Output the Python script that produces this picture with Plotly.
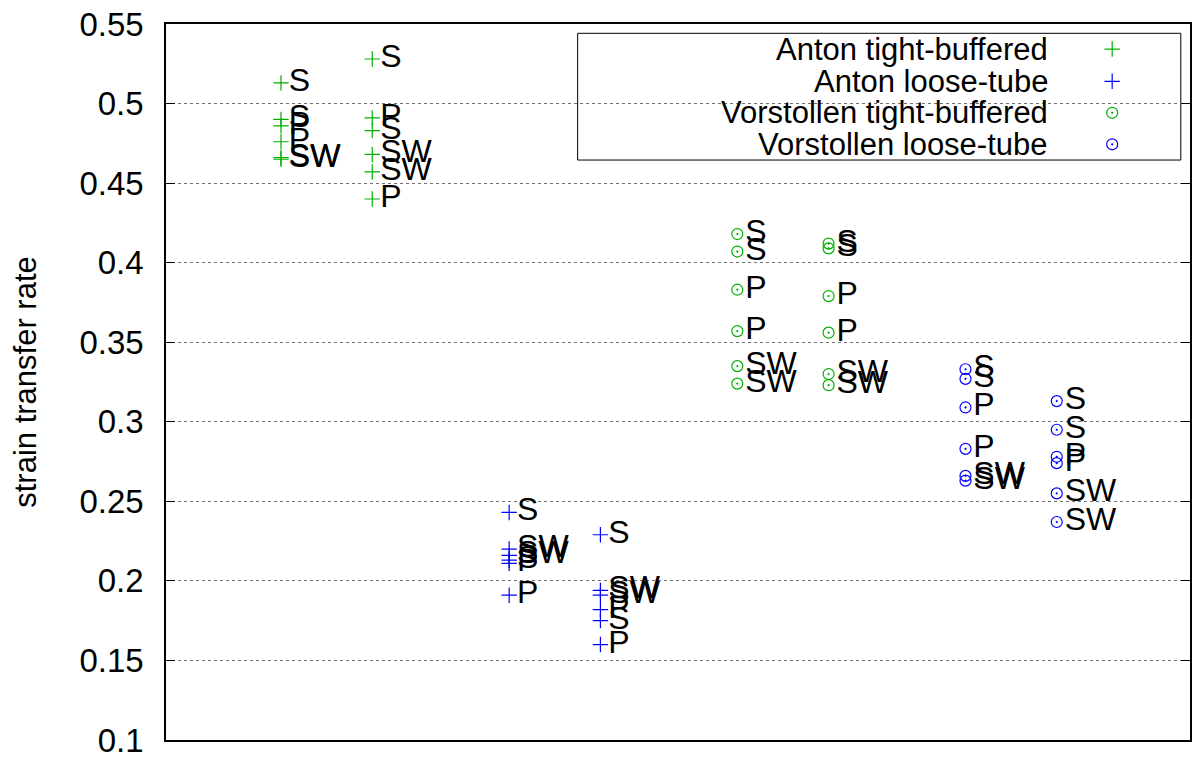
import plotly.graph_objects as go

# posiciones en x de cada grupo (dos columnas por serie)
pos_anton_tight = [0, 1]
pos_anton_loose = [2.5, 3.5]
pos_vorst_tight = [5, 6]
pos_vorst_loose = [7.5, 8.5]

# valores, columna por columna
anton_tight_a = [0.513, 0.490, 0.486, 0.476, 0.466, 0.465]
anton_tight_a_lbl = ["S", "S", "P", "P", "SW", "SW"]
anton_tight_b = [0.528, 0.491, 0.483, 0.468, 0.457, 0.440]
anton_tight_b_lbl = ["S", "P", "S", "SW", "SW", "P"]

anton_loose_a = [0.243, 0.220, 0.216, 0.213, 0.211, 0.191]
anton_loose_a_lbl = ["S", "SW", "SW", "S", "P", "P"]
anton_loose_b = [0.229, 0.194, 0.191, 0.182, 0.175, 0.160]
anton_loose_b_lbl = ["S", "SW", "SW", "P", "S", "P"]

vorst_tight_a = [0.418, 0.407, 0.383, 0.357, 0.335, 0.324]
vorst_tight_a_lbl = ["S", "S", "P", "P", "SW", "SW"]
vorst_tight_b = [0.412, 0.409, 0.379, 0.356, 0.330, 0.323]
vorst_tight_b_lbl = ["S", "S", "P", "P", "SW", "SW"]

vorst_loose_a = [0.333, 0.327, 0.309, 0.283, 0.266, 0.263]
vorst_loose_a_lbl = ["S", "S", "P", "P", "SW", "SW"]
vorst_loose_b = [0.313, 0.295, 0.278, 0.274, 0.255, 0.237]
vorst_loose_b_lbl = ["S", "S", "P", "P", "SW", "SW"]

series_names = ["Anton tight-buffered", "Anton loose-tube",
                "Vorstollen tight-buffered", "Vorstollen loose-tube"]

y_ticks = [0.1, 0.15, 0.2, 0.25, 0.3, 0.35, 0.4, 0.45, 0.5, 0.55]
y_tick_text = ["0.1", "0.15", "0.2", "0.25", "0.3", "0.35", "0.4", "0.45", "0.5", "0.55"]

GREEN = "#00b000"
BLUE = "#0000ff"
FONT = "Liberation Sans, Arial, sans-serif"


def columna(pos, ya, yb):
    return [pos[0]] * len(ya) + [pos[1]] * len(yb)


series = [
    (pos_anton_tight, anton_tight_a, anton_tight_b, anton_tight_a_lbl, anton_tight_b_lbl, GREEN, "cross-thin"),
    (pos_anton_loose, anton_loose_a, anton_loose_b, anton_loose_a_lbl, anton_loose_b_lbl, BLUE, "cross-thin"),
    (pos_vorst_tight, vorst_tight_a, vorst_tight_b, vorst_tight_a_lbl, vorst_tight_b_lbl, GREEN, "circle-open-dot"),
    (pos_vorst_loose, vorst_loose_a, vorst_loose_b, vorst_loose_a_lbl, vorst_loose_b_lbl, BLUE, "circle-open-dot"),
]

fig = go.Figure()

for name, (pos, ya, yb, la, lb, color, sym) in zip(series_names, series):
    fig.add_trace(go.Scatter(
        x=columna(pos, ya, yb),
        y=ya + yb,
        text=la + lb,
        name=name,
        mode="markers+text",
        textposition="middle right",
        textfont=dict(family=FONT, size=32, color="black"),
        marker=dict(symbol=sym, size=11, color=color,
                    line=dict(color=color, width=1.2)),
        showlegend=False,
    ))

# leyenda al estilo gnuplot: texto a la izquierda, simbolo a la derecha
legend_rows = [0.965, 0.920, 0.876, 0.832]
legend_colors = [GREEN, BLUE, GREEN, BLUE]
legend_symbols = ["cross-thin", "cross-thin", "circle-open-dot", "circle-open-dot"]

for name, yr, color, sym in zip(series_names, legend_rows, legend_colors, legend_symbols):
    fig.add_annotation(x=0.863, y=yr, xref="paper", yref="paper",
                       text=name, showarrow=False, xanchor="right", yanchor="middle",
                       font=dict(family=FONT, size=31, color="black"))
    fig.add_trace(go.Scatter(
        x=[0.924], y=[yr], xaxis="x2", yaxis="y2",
        mode="markers", hoverinfo="skip", showlegend=False,
        marker=dict(symbol=sym, size=11, color=color,
                    line=dict(color=color, width=1.2)),
    ))

fig.add_shape(type="rect", xref="paper", yref="paper",
              x0=0.402, x1=0.991, y0=0.810, y1=0.987,
              line=dict(color="black", width=1), fillcolor="white", layer="below")

fig.update_layout(
    width=1198, height=758,
    margin=dict(l=166, r=8, t=24, b=18),
    plot_bgcolor="white", paper_bgcolor="white",
    font=dict(family=FONT, size=31, color="black"),
    xaxis=dict(range=[-1.26, 9.96], showticklabels=False, ticks="",
               showgrid=False, zeroline=False, showline=True, mirror=True,
               linecolor="black", linewidth=1.5, automargin=False),
    yaxis=dict(range=[0.1, 0.55], tickvals=y_ticks, ticktext=y_tick_text,
               ticks="inside", ticklen=9, tickcolor="black", tickwidth=1,
               showline=True, mirror="ticks", linecolor="black", linewidth=1.5,
               showgrid=True, gridcolor="#707070", griddash="dot", gridwidth=1,
               zeroline=False, ticklabelstandoff=14, ticklabeloverflow="allow",
               automargin=False,
               tickfont=dict(family=FONT, size=33),
               title=dict(text="strain transfer rate", standoff=34,
                          font=dict(family=FONT, size=31))),
    xaxis2=dict(range=[0, 1], overlaying="x", visible=False),
    yaxis2=dict(range=[0, 1], overlaying="y", visible=False),
)

# quitar el margen por defecto del body para que la figura ocupe toda la ventana
fig.write_html("out.html", config={"displayModeBar": False},
               post_script="document.body.style.margin='0';")
